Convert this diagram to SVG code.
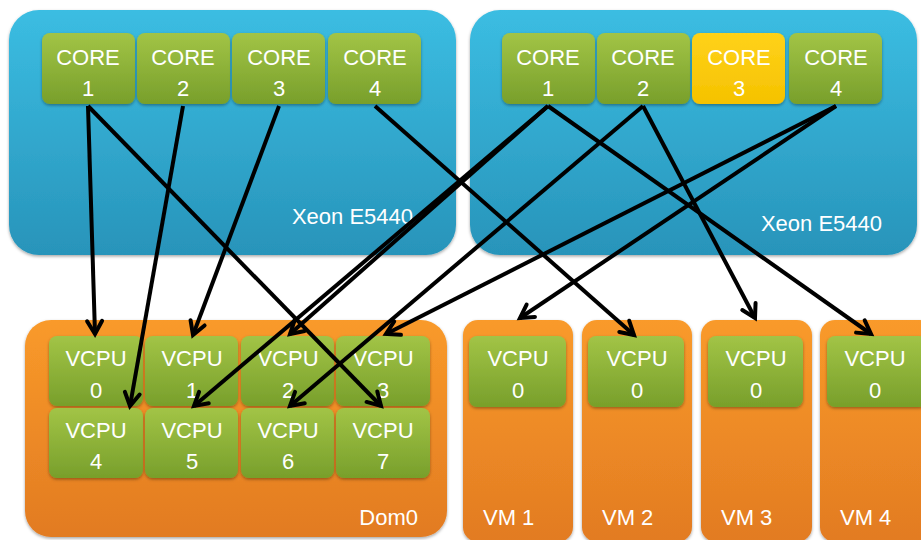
<svg xmlns="http://www.w3.org/2000/svg" width="921" height="540" viewBox="0 0 921 540">
  <defs>
    <linearGradient id="gBlue" x1="0" y1="0" x2="0" y2="1">
      <stop offset="0" stop-color="#3bbde2"/>
      <stop offset="1" stop-color="#2894ba"/>
    </linearGradient>
    <linearGradient id="gGreen" x1="0" y1="0" x2="0" y2="1">
      <stop offset="0" stop-color="#a2c446"/>
      <stop offset="1" stop-color="#789f2b"/>
    </linearGradient>
    <linearGradient id="gYellow" x1="0" y1="0" x2="0" y2="1">
      <stop offset="0" stop-color="#ffd21a"/>
      <stop offset="1" stop-color="#f5c200"/>
    </linearGradient>
    <linearGradient id="gOrange" x1="0" y1="0" x2="0" y2="1">
      <stop offset="0" stop-color="#f99a2a"/>
      <stop offset="1" stop-color="#e27b22"/>
    </linearGradient>
    <filter id="shadow" x="-10%" y="-10%" width="120%" height="130%">
      <feDropShadow dx="0" dy="1.5" stdDeviation="1.5" flood-color="#000" flood-opacity="0.35"/>
    </filter>
    <marker id="arrow" viewBox="-16 -16 32 32" markerUnits="userSpaceOnUse" markerWidth="32" markerHeight="32" refX="0" refY="0" orient="auto">
      <path d="M -13,-7.5 L 0,0 L -13,7.5" fill="none" stroke="#000" stroke-width="4" stroke-linejoin="miter" stroke-linecap="round"/>
    </marker>
    <style>
      .cpu { fill: url(#gBlue); filter: url(#shadow); }
      .vm { fill: url(#gOrange); filter: url(#shadow); }
      .unit { fill: url(#gGreen); filter: url(#shadow); }
      .unit.idle { fill: url(#gYellow); }
      text { font-family: "Liberation Sans", Arial, sans-serif; font-size: 22px; fill: #ffffff; }
      .c { text-anchor: middle; }
      .e { text-anchor: end; }
      .link { stroke: #000; stroke-width: 4; fill: none; marker-end: url(#arrow); }
    </style>
  </defs>

  <!-- Physical CPU packages -->
  <g id="cpu-left">
    <rect class="cpu" x="9" y="10" width="447" height="245" rx="30"/>
    <text class="e" x="413" y="224">Xeon E5440</text>
  </g>
  <g id="cpu-right">
    <rect class="cpu" x="470" y="10" width="447" height="245" rx="30"/>
    <text class="e" x="882" y="231">Xeon E5440</text>
  </g>

  <g id="core-l1"><rect class="unit" x="42" y="33" width="93" height="71" rx="8"/><text class="c" x="88" y="65">CORE</text><text class="c" x="88" y="96">1</text></g>
  <g id="core-l2"><rect class="unit" x="137" y="33" width="93" height="71" rx="8"/><text class="c" x="183" y="65">CORE</text><text class="c" x="183" y="96">2</text></g>
  <g id="core-l3"><rect class="unit" x="232" y="33" width="93" height="71" rx="8"/><text class="c" x="279" y="65">CORE</text><text class="c" x="279" y="96">3</text></g>
  <g id="core-l4"><rect class="unit" x="328" y="33" width="93" height="71" rx="8"/><text class="c" x="375" y="65">CORE</text><text class="c" x="375" y="96">4</text></g>

  <g id="core-r1"><rect class="unit" x="502" y="33" width="93" height="71" rx="8"/><text class="c" x="548" y="65">CORE</text><text class="c" x="548" y="96">1</text></g>
  <g id="core-r2"><rect class="unit" x="597" y="33" width="93" height="71" rx="8"/><text class="c" x="643" y="65">CORE</text><text class="c" x="643" y="96">2</text></g>
  <g id="core-r3"><rect class="unit idle" x="692" y="33" width="93" height="71" rx="8"/><text class="c" x="739" y="65">CORE</text><text class="c" x="739" y="96">3</text></g>
  <g id="core-r4"><rect class="unit" x="789" y="33" width="93" height="71" rx="8"/><text class="c" x="836" y="65">CORE</text><text class="c" x="836" y="96">4</text></g>

  <!-- Domains -->
  <g id="dom0">
    <rect class="vm" x="25" y="320" width="422" height="217" rx="26"/>
    <text class="e" x="418" y="525">Dom0</text>
  </g>
  <g id="vm1">
    <rect class="vm" x="463" y="320" width="110" height="222" rx="15"/>
    <text x="483" y="525">VM 1</text>
  </g>
  <g id="vm2">
    <rect class="vm" x="582" y="320" width="110" height="222" rx="15"/>
    <text x="602" y="525">VM 2</text>
  </g>
  <g id="vm3">
    <rect class="vm" x="701" y="320" width="111" height="222" rx="15"/>
    <text x="721" y="525">VM 3</text>
  </g>
  <g id="vm4">
    <rect class="vm" x="820" y="320" width="115" height="222" rx="15"/>
    <text x="840" y="525">VM 4</text>
  </g>

  <g id="vcpu-d0"><rect class="unit" x="49" y="336" width="94" height="70" rx="8"/><text class="c" x="96" y="366">VCPU</text><text class="c" x="96" y="398">0</text></g>
  <g id="vcpu-d1"><rect class="unit" x="145" y="336" width="93" height="70" rx="8"/><text class="c" x="192" y="366">VCPU</text><text class="c" x="192" y="398">1</text></g>
  <g id="vcpu-d2"><rect class="unit" x="241" y="336" width="93" height="70" rx="8"/><text class="c" x="288" y="366">VCPU</text><text class="c" x="288" y="398">2</text></g>
  <g id="vcpu-d3"><rect class="unit" x="336" y="336" width="94" height="70" rx="8"/><text class="c" x="383" y="366">VCPU</text><text class="c" x="383" y="398">3</text></g>
  <g id="vcpu-d4"><rect class="unit" x="49" y="408" width="94" height="70" rx="8"/><text class="c" x="96" y="438">VCPU</text><text class="c" x="96" y="469">4</text></g>
  <g id="vcpu-d5"><rect class="unit" x="145" y="408" width="93" height="70" rx="8"/><text class="c" x="192" y="438">VCPU</text><text class="c" x="192" y="469">5</text></g>
  <g id="vcpu-d6"><rect class="unit" x="241" y="408" width="93" height="70" rx="8"/><text class="c" x="288" y="438">VCPU</text><text class="c" x="288" y="469">6</text></g>
  <g id="vcpu-d7"><rect class="unit" x="336" y="408" width="94" height="70" rx="8"/><text class="c" x="383" y="438">VCPU</text><text class="c" x="383" y="469">7</text></g>

  <g id="vcpu-vm1"><rect class="unit" x="469" y="336" width="97" height="71" rx="8"/><text class="c" x="518" y="366">VCPU</text><text class="c" x="518" y="398">0</text></g>
  <g id="vcpu-vm2"><rect class="unit" x="588" y="336" width="96" height="71" rx="8"/><text class="c" x="637" y="366">VCPU</text><text class="c" x="637" y="398">0</text></g>
  <g id="vcpu-vm3"><rect class="unit" x="708" y="336" width="95" height="71" rx="8"/><text class="c" x="756" y="366">VCPU</text><text class="c" x="756" y="398">0</text></g>
  <g id="vcpu-vm4"><rect class="unit" x="827" y="336" width="100" height="71" rx="8"/><text class="c" x="875" y="366">VCPU</text><text class="c" x="875" y="398">0</text></g>

  <!-- Core to VCPU pinning -->
  <g id="connectors">
    <line class="link" x1="88" y1="106" x2="95" y2="334"/>
    <line class="link" x1="88" y1="106" x2="381" y2="406"/>
    <line class="link" x1="183" y1="106" x2="130" y2="406"/>
    <line class="link" x1="279" y1="106" x2="193" y2="335"/>
    <line class="link" x1="375" y1="106" x2="634" y2="335"/>
    <line class="link" x1="548" y1="106" x2="290" y2="334"/>
    <line class="link" x1="548" y1="106" x2="194" y2="406"/>
    <line class="link" x1="548" y1="106" x2="871" y2="334"/>
    <line class="link" x1="643" y1="106" x2="290" y2="406"/>
    <line class="link" x1="643" y1="106" x2="755" y2="318"/>
    <line class="link" x1="836" y1="106" x2="386" y2="334"/>
    <line class="link" x1="836" y1="106" x2="520" y2="318"/>
  </g>
</svg>
